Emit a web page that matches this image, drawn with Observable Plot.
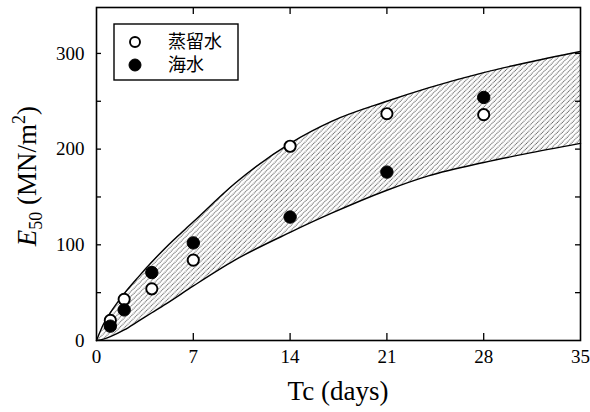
<!DOCTYPE html>
<html>
<head>
<meta charset="utf-8">
<script src="https://cdn.jsdelivr.net/npm/d3@7"></script>
<script src="https://cdn.jsdelivr.net/npm/@observablehq/plot@0.6"></script>
<style>
  html, body { margin: 0; padding: 0; background: #fff; }
  #chart { width: 590px; height: 412px; }
  #chart svg text, #chart svg tspan { font-family: "Liberation Serif", serif !important; }
  #chart svg text.cjk { font-family: "Noto Sans CJK JP", sans-serif !important; }
</style>
</head>
<body>
<div id="chart"></div>
<script>
// Curing time (days) sampled along the envelope of E50
const bandDays  = [0, 0.5, 1, 2, 3, 4, 5, 7, 10, 14, 17, 21, 24, 28, 31, 35];
const bandUpper = [0, 17, 29, 49, 66, 82, 97, 124, 164, 206, 229, 250, 264, 280, 290, 302];
const bandLower = [0, 1.5, 4, 11, 20, 29, 38, 57, 84, 113, 133, 157, 172, 186, 195, 206];

// Test ages and measured E50 (MN/m²)
const testDays  = [1, 2, 4, 7, 14, 21, 28];
const distilled = [21, 43, 54, 84, 203, 237, 236];   // 蒸留水
const seawater  = [15, 32, 71, 102, 129, 176, 254];  // 海水

// Axis ticks
const xTickLabels = [0, 7, 14, 21, 28, 35];
const xTickMarks  = [7, 14, 21, 28];
const yTickLabels = [0, 100, 200, 300];
const yTickMarks  = [50, 100, 150, 200, 250, 300];

const seriesNames = ["蒸留水", "海水"];

const band = bandDays.map((t, i) => ({t, hi: bandUpper[i], lo: bandLower[i]}));
const distRows = testDays.map((t, i) => ({t, v: distilled[i]}));
const seaRows  = testDays.map((t, i) => ({t, v: seawater[i]}));

const W = 590, H = 412;
const mL = 96, mR = 10, mT = 7, mB = 72;
const innerW = W - mL - mR, innerH = H - mT - mB;
const serif = "Liberation Serif";

const chart = Plot.plot({
  width: W,
  height: H,
  marginLeft: mL,
  marginRight: mR,
  marginTop: mT,
  marginBottom: mB,
  x: {domain: [0, 35]},
  y: {domain: [0, 348]},
  style: {color: "#000", background: "#fff"},
  marks: [
    Plot.areaY(band, {x: "t", y1: "lo", y2: "hi", curve: "monotone-x", fill: "#999"}),
    Plot.line(band, {x: "t", y: "hi", curve: "monotone-x", stroke: "#000", strokeWidth: 1.4}),
    Plot.line(band, {x: "t", y: "lo", curve: "monotone-x", stroke: "#000", strokeWidth: 1.4}),
    Plot.dot(distRows, {x: "t", y: "v", r: 5.6, fill: "#fff", stroke: "#000", strokeWidth: 1.9}),
    Plot.dot(seaRows, {x: "t", y: "v", r: 6.2, fill: "#000", stroke: "#000", strokeWidth: 1}),
    // inward tick marks on all four sides
    Plot.tickX(xTickMarks, {x: d => d, insetTop: innerH - 7, stroke: "#000", strokeWidth: 1.3}),
    Plot.tickX(xTickMarks, {x: d => d, insetBottom: innerH - 7, stroke: "#000", strokeWidth: 1.3}),
    Plot.tickY(yTickMarks, {y: d => d, insetRight: innerW - 5, stroke: "#000", strokeWidth: 1.3}),
    Plot.tickY(yTickMarks, {y: d => d, insetLeft: innerW - 5, stroke: "#000", strokeWidth: 1.3}),
    Plot.axisX({ticks: xTickLabels, tickSize: 0, tickPadding: 9, label: null, fontSize: 19, fontFamily: serif, fontVariant: "normal"}),
    Plot.axisY({ticks: yTickLabels, tickSize: 0, tickPadding: 12, label: null, fontSize: 19, fontFamily: serif, fontVariant: "normal"}),
    Plot.frame({stroke: "#000", strokeWidth: 1.6})
  ]
});

const svg = d3.select(chart);

// dotted diagonal hatching for the envelope
const defs = svg.insert("defs", ":first-child");
const pat = defs.append("pattern")
  .attr("id", "hatch")
  .attr("width", 3.5).attr("height", 3.5)
  .attr("patternUnits", "userSpaceOnUse")
  .attr("patternTransform", "rotate(45)");
pat.append("rect").attr("width", 3.5).attr("height", 3.5).attr("fill", "#fff");
pat.append("line")
  .attr("x1", 1.2).attr("y1", 0).attr("x2", 1.2).attr("y2", 3.5)
  .attr("stroke", "#5e5e5e").attr("stroke-width", 1.05)
  .attr("stroke-dasharray", "1 0.75");
svg.selectAll('g[aria-label="area"] path').attr("fill", "url(#hatch)");

// axis titles
svg.append("text")
  .attr("x", mL + innerW / 2).attr("y", 400)
  .attr("text-anchor", "middle")
  .attr("font-family", serif)
  .attr("font-size", 27)
  .attr("fill", "#000")
  .text("Tc (days)");

const yt = svg.append("text")
  .attr("transform", `translate(36, ${176}) rotate(-90)`)
  .attr("text-anchor", "middle")
  .attr("font-family", serif)
  .attr("font-size", 27)
  .attr("fill", "#000");
yt.append("tspan").attr("font-style", "italic").text("E");
yt.append("tspan").attr("font-size", 18).attr("dy", 6).text("50");
yt.append("tspan").attr("dy", -6).text(" (MN/m");
yt.append("tspan").attr("font-size", 18).attr("dy", -11).text("2");
yt.append("tspan").attr("dy", 11).text(")");

// legend box
const lg = svg.append("g");
lg.append("rect")
  .attr("x", 114).attr("y", 24).attr("width", 124).attr("height", 56)
  .attr("fill", "#fff").attr("stroke", "#000").attr("stroke-width", 1.4);
const legendRows = [
  {name: seriesNames[0], fill: "#fff", r: 5, sw: 1.9, cy: 42},
  {name: seriesNames[1], fill: "#000", r: 6, sw: 1, cy: 65}
];
legendRows.forEach(d => {
  lg.append("circle").attr("cx", 135).attr("cy", d.cy).attr("r", d.r)
    .attr("fill", d.fill).attr("stroke", "#000").attr("stroke-width", d.sw);
  lg.append("text").attr("class", "cjk")
    .attr("x", 168).attr("y", d.cy).attr("dy", "0.36em")
    .attr("text-anchor", "start")
    .attr("font-size", 18).attr("fill", "#000").text(d.name);
});

document.getElementById("chart").appendChild(chart);
</script>
</body>
</html>
